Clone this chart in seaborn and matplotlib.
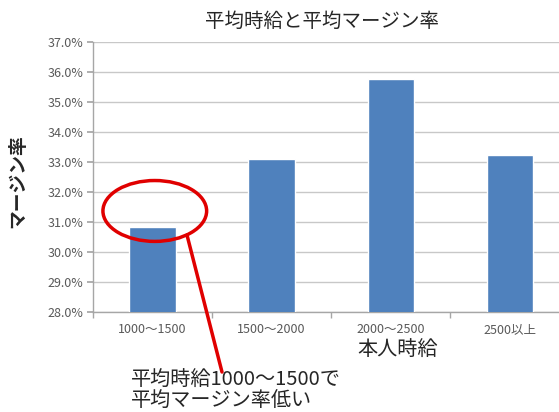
import matplotlib
matplotlib.use("Agg")
import matplotlib.pyplot as plt
from matplotlib.patches import Ellipse
from matplotlib.ticker import FixedLocator, PercentFormatter
import seaborn as sns
import pandas as pd

# données
categories = ["1000～1500", "1500～2000", "2000～2500", "2500以上"]
margin_rate = [30.83, 33.1, 35.78, 33.25]
y_ticks = [28, 29, 30, 31, 32, 33, 34, 35, 36, 37]

title = "平均時給と平均マージン率"
x_label = "本人時給"
y_label = "マージン率"
note = "平均時給1000～1500で\n平均マージン率低い"

sns.set_theme(style="white")
plt.rcParams["font.family"] = ["Noto Sans CJK JP", "DejaVu Sans"]

df = pd.DataFrame({"cat": categories, "rate": margin_rate})

fig = plt.figure(figsize=(5.59, 4.12), dpi=100)
ax = fig.add_axes([0.166, 0.2427, 0.853, 0.655])

sns.barplot(data=df, x="cat", y="rate", color="#4F81BD", saturation=1,
            width=0.39, ax=ax, zorder=3)

ax.set_ylim(28, 37)
ax.set_xlim(-0.5, 3.5)
ax.set_yticks(y_ticks)
ax.yaxis.set_major_formatter(PercentFormatter(decimals=1))
ax.grid(axis="y", color="#c8c8c8", lw=1, zorder=0)

for s in ["top", "right"]:
    ax.spines[s].set_visible(False)
for s in ["left", "bottom"]:
    ax.spines[s].set_color("#a6a6a6")
    ax.spines[s].set_linewidth(1)

ax.tick_params(axis="y", labelsize=9, labelcolor="#595959", length=4,
               color="#a6a6a6", left=True, direction="out", pad=3)
ax.tick_params(axis="x", which="major", labelsize=9, labelcolor="#595959",
               length=0, pad=8)
ax.xaxis.set_minor_locator(FixedLocator([-0.5, 0.5, 1.5, 2.5, 3.5]))
ax.tick_params(axis="x", which="minor", length=4, color="#a6a6a6",
               bottom=True, direction="out")

ax.set_xlabel(x_label, fontsize=14.5, labelpad=3, x=0.64)
ax.set_ylabel("")
fig.text(18 / 559, 1 - 181 / 412, y_label, rotation=90, fontsize=13.5,
         fontweight="bold", ha="center", va="center")
fig.text(322 / 559, 1 - 21 / 412, title, fontsize=14, ha="center",
         va="center")

# cercle rouge + trait vers le commentaire
ell = Ellipse((0.02, 31.37), 0.87, 2.03, fill=False, edgecolor="#e00000",
              lw=2.5, zorder=5, clip_on=False)
ax.add_patch(ell)
ax.annotate("", xy=(0.29, 30.57), xytext=(222, 412 - 372),
            textcoords="figure pixels",
            arrowprops=dict(arrowstyle="-", color="#e00000", lw=2.5,
                            shrinkA=0, shrinkB=0),
            annotation_clip=False, zorder=5)

fig.text(131 / 559, 1 - 370 / 412, note, fontsize=14.5, ha="left", va="top",
         linespacing=0.98)

fig.savefig("out.png", dpi=100)
